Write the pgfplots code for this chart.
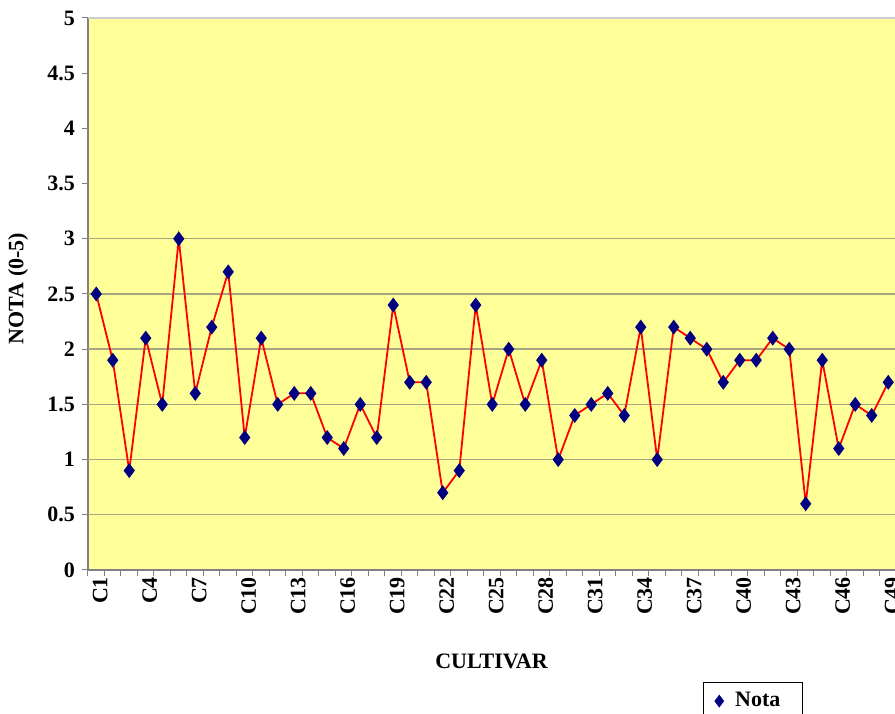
\documentclass[border=0pt]{standalone}
\usepackage{fontspec}
\setmainfont{Liberation Serif}
\usepackage{pgfplots}
\pgfplotsset{compat=1.18}
\definecolor{plotbg}{RGB}{255,255,153}
\definecolor{navymark}{RGB}{0,0,128}
\definecolor{gridc}{RGB}{165,165,130}
\definecolor{axisc}{RGB}{128,128,128}
\definecolor{topc}{RGB}{205,205,205}
\newcommand{\lblfont}{\fontsize{11}{13}\selectfont\bfseries}
\begin{document}
\begin{tikzpicture}
\begin{axis}[
  name=ax,
  scale only axis, width=403.5pt, height=276pt,
  xmin=0.5, xmax=49.41, ymin=0, ymax=5,
  axis x line*=bottom, axis y line*=left,
  axis line style={-, draw=axisc, line width=0.6pt},
  axis background/.style={fill=plotbg},
  /pgf/number format/assume math mode=true,
  ytick={0,0.5,1,1.5,2,2.5,3,3.5,4,4.5,5},
  yticklabel style={font=\lblfont},
  ymajorgrids=false, xmajorgrids=false,
  tick align=outside, major tick length=3pt,
  tick style={draw=axisc, line width=0.5pt},
  xtick={0.5,1.5,...,48.5}, xticklabels={},
  xticklabel style={font=\lblfont},
  extra x ticks={1,4,7,10,13,16,19,22,25,28,31,34,37,40,43,46,49},
  extra x tick labels={C1,C4,C7,C10,C13,C16,C19,C22,C25,C28,C31,C34,C37,C40,C43,C46,C49},
  extra x tick style={major tick length=0pt, xticklabel style={rotate=90, anchor=east, yshift=-2pt}},
  ylabel={NOTA (0-5)},
  ylabel style={at={(axis description cs:-0.0867,0.51)}, anchor=center, font=\lblfont},
  xlabel={CULTIVAR},
  xlabel style={at={(axis description cs:0.5,0)}, anchor=center, yshift=-45.5pt, font=\lblfont},
  legend style={at={(0,0)}, anchor=north west, xshift=307.5pt, yshift=-56pt,
    draw=black, line width=0.4pt, font=\lblfont, inner xsep=3pt, inner ysep=3pt},
  legend image code/.code={\path (0pt,0pt) (10pt,0pt); \draw[#1, mark size=2.5pt] plot coordinates {(4.5pt,0pt)};},
]
\pgfplotsinvokeforeach{0.5,1,1.5,2,2.5,3}{
  \draw[draw=gridc, line width=0.7pt] (axis cs:0.5,#1) -- (axis cs:49.41,#1);
}
\addplot[color=red, line width=0.9pt, mark=diamond*, mark size=3pt,
  mark options={draw=navymark, fill=navymark, solid}] coordinates {
(1,2.5)(2,1.9)(3,0.9)(4,2.1)(5,1.5)(6,3.0)(7,1.6)(8,2.2)(9,2.7)(10,1.2)
(11,2.1)(12,1.5)(13,1.6)(14,1.6)(15,1.2)(16,1.1)(17,1.5)(18,1.2)(19,2.4)(20,1.7)
(21,1.7)(22,0.7)(23,0.9)(24,2.4)(25,1.5)(26,2.0)(27,1.5)(28,1.9)(29,1.0)(30,1.4)
(31,1.5)(32,1.6)(33,1.4)(34,2.2)(35,1.0)(36,2.2)(37,2.1)(38,2.0)(39,1.7)(40,1.9)
(41,1.9)(42,2.1)(43,2.0)(44,0.6)(45,1.9)(46,1.1)(47,1.5)(48,1.4)(49,1.7)
};
\addlegendentry{Nota\kern6pt\mbox{}}
\end{axis}
\draw[draw=topc, line width=0.8pt] (ax.north west) -- (ax.north east);
\pgfresetboundingbox
\path[use as bounding box] ([shift={(-44pt,-72pt)}]ax.south west) rectangle ([shift={(0pt,9pt)}]ax.north east);
\end{tikzpicture}
\end{document}
